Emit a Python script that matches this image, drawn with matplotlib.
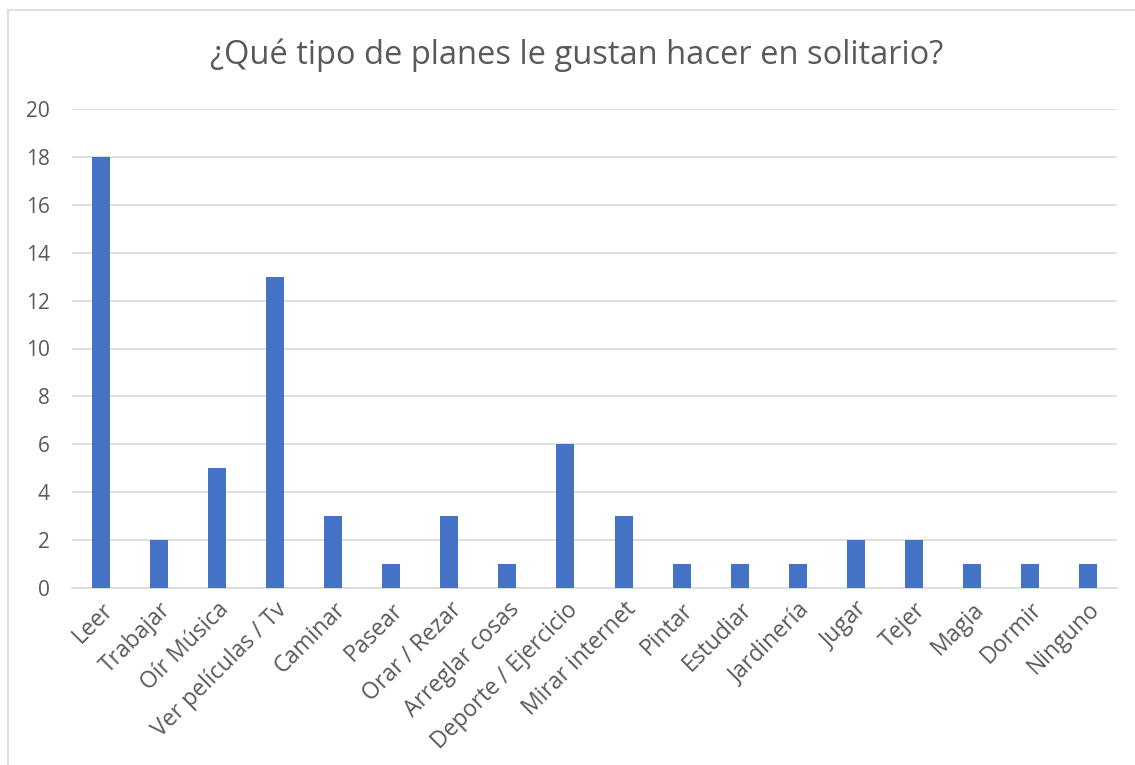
import matplotlib.pyplot as plt
from matplotlib.lines import Line2D

plt.rcParams['font.family'] = ['Open Sans', 'DejaVu Sans']

# respuestas por actividad
actividades = ['Leer', 'Trabajar', 'Oír Música', 'Ver películas / Tv', 'Caminar',
               'Pasear', 'Orar / Rezar', 'Arreglar cosas', 'Deporte / Ejercicio',
               'Mirar internet', 'Pintar', 'Estudiar', 'Jardinería', 'Jugar',
               'Tejer', 'Magia', 'Dormir', 'Ninguno']
respuestas = [18, 2, 5, 13, 3, 1, 3, 1, 6, 3, 1, 1, 1, 2, 2, 1, 1, 1]
yticks = list(range(0, 21, 2))

gris = '#595959'
azul = '#4472C4'

fig = plt.figure(figsize=(11.35, 7.65), dpi=100)
ax = fig.add_axes([72 / 1135, 1 - 588 / 765, (1117 - 72) / 1135, (588 - 109) / 765])

x = range(len(actividades))
ax.bar(x, respuestas, width=0.31, color=azul, zorder=3)

ax.set_xlim(-0.5, len(actividades) - 0.5)
ax.set_ylim(0, 20)
ax.set_yticks(yticks)
ax.set_xticks(list(x))
ax.set_xticklabels(actividades, rotation=45, ha='right', rotation_mode='anchor')
ax.tick_params(axis='both', length=0, colors=gris)
ax.tick_params(axis='y', pad=16, labelsize=15)
ax.tick_params(axis='x', pad=7, labelsize=16.5)
ax.grid(axis='y', color='#D9D9D9', linewidth=1.2, zorder=0)
for s in ['top', 'right', 'left']:
    ax.spines[s].set_visible(False)
ax.spines['bottom'].set_color('#D9D9D9')
ax.spines['bottom'].set_linewidth(1.2)

fig.text(577 / 1135, 1 - 55 / 765, '¿Qué tipo de planes le gustan hacer en solitario?',
         ha='center', va='center', fontsize=23.5, color=gris)

# marco del gráfico
fig.add_artist(Line2D([8 / 1135, 1], [1 - 10 / 765] * 2, color='#D9D9D9', linewidth=1.2))
fig.add_artist(Line2D([8 / 1135] * 2, [0, 1 - 10 / 765], color='#D9D9D9', linewidth=1.2))

fig.savefig('out.png', dpi=100)
